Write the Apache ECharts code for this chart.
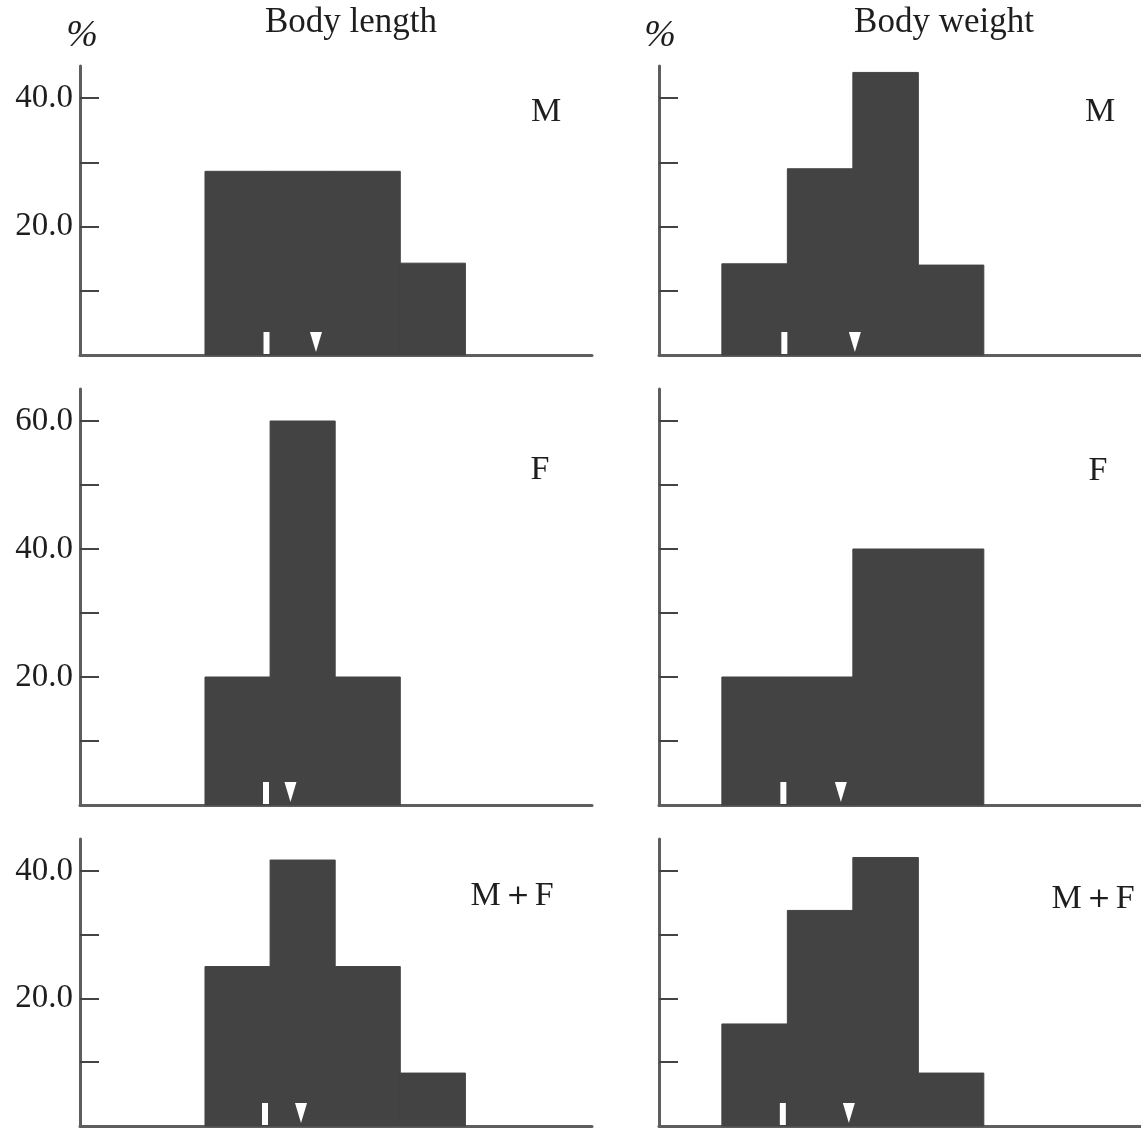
<!DOCTYPE html>
<html>
<head>
<meta charset="utf-8">
<script src="https://cdn.jsdelivr.net/npm/echarts@6/dist/echarts.min.js"></script>
<style>html,body{margin:0;padding:0;background:#fff}#c{width:1141px;height:1130px}</style>
</head>
<body>
<div id="c"></div>
<script>
// ---- data (class boundaries are in class-index units; values are %) ----
const lengthEdges = [2, 3, 4, 5, 6];
const weightEdges = [1, 2, 3, 4, 5];
const lengthM  = [28.6, 28.6, 28.6, 14.3];
const lengthF  = [20.0, 60.0, 20.0];
const lengthMF = [25.0, 41.7, 25.0, 8.3];
const weightM  = [14.2, 29.0, 44.0, 14.0];
const weightF  = [20.0, 20.0, 40.0, 40.0];
const weightMF = [16.0, 33.8, 42.1, 8.3];
// marker positions (class-index units): white bar and white triangle
const lengthBarMark = [2.945, 2.937, 2.922];
const lengthTriMark = [3.705, 3.313, 3.475];
const weightBarMark = [1.954, 1.939, 1.931];
const weightTriMark = [3.031, 2.817, 2.939];
const panelLabels = ['M', 'F', 'M\uFF0BF'];
const columnTitles = ['Body length', 'Body weight'];
const yMaxes = [45, 65, 45];
const yTickValues = [[10, 20, 30, 40], [10, 20, 30, 40, 50, 60], [10, 20, 30, 40]];
const yLabelValues = [[20, 40], [20, 40, 60], [20, 40]];

const serif = "'Liberation Serif', 'DejaVu Serif', serif";
const rows = [
  {top: 66,  height: 289},
  {top: 389, height: 416},
  {top: 839, height: 287}
];
const cols = [
  {left: 80,  width: 512, min: 0.08, max: 7.945, edges: lengthEdges, data: [lengthM, lengthF, lengthMF], bar: lengthBarMark, tri: lengthTriMark},
  {left: 659, width: 482, min: 0.04, max: 7.40,  edges: weightEdges, data: [weightM, weightF, weightMF], bar: weightBarMark, tri: weightTriMark}
];

const grid = [], xAxis = [], yAxis = [], series = [];
let gi = 0;
rows.forEach((r, ri) => {
  cols.forEach((c, ci) => {
    grid.push({left: c.left, top: r.top, width: c.width, height: r.height});
    xAxis.push({
      type: 'value', gridIndex: gi, min: c.min, max: c.max,
      axisLine: {show: true, onZero: false, lineStyle: {color: '#5e5e5e', width: 3}},
      axisTick: {show: false}, axisLabel: {show: false}, splitLine: {show: false}
    });
    yAxis.push({
      type: 'value', gridIndex: gi, min: 0, max: yMaxes[ri],
      axisLine: {show: true, onZero: false, lineStyle: {color: '#5e5e5e', width: 3}},
      axisTick: {show: true, inside: true, length: 19, customValues: yTickValues[ri],
                 lineStyle: {color: '#444', width: 2}},
      axisLabel: {show: ci === 0, customValues: yLabelValues[ri], margin: 7,
                  fontFamily: serif, fontSize: 33, color: '#1e1e1e',
                  formatter: v => v.toFixed(1)},
      splitLine: {show: false}
    });
    const vals = c.data[ri];
    const binData = vals.map((v, i) => [c.edges[i], c.edges[i + 1], v]);
    series.push({
      type: 'custom', xAxisIndex: gi, yAxisIndex: gi, data: binData, z: 2,
      renderItem: (params, api) => {
        const p0 = api.coord([api.value(0), api.value(2)]);
        const p1 = api.coord([api.value(1), 0]);
        return {type: 'rect', shape: {x: p0[0], y: p0[1], width: p1[0] - p0[0], height: p1[1] - p0[1]},
                style: {fill: '#434343', stroke: '#434343', lineWidth: 1}};
      }
    });
    series.push({
      type: 'custom', xAxisIndex: gi, yAxisIndex: gi, z: 5,
      data: [[c.bar[ri], c.tri[ri]]],
      renderItem: (params, api) => {
        const b = api.coord([api.value(0), 0]);
        const t = api.coord([api.value(1), 0]);
        return {type: 'group', children: [
          {type: 'rect', shape: {x: b[0] - 3, y: b[1] - 23, width: 6, height: 22}, style: {fill: '#fff'}},
          {type: 'polygon', shape: {points: [[t[0] - 6, t[1] - 23], [t[0] + 6, t[1] - 23], [t[0], t[1] - 3]]}, style: {fill: '#fff'}}
        ]};
      }
    });
    gi++;
  });
});

const graphic = [];
const titlePos = [[351, 23], [944, 23]];
columnTitles.forEach((t, i) => graphic.push({type: 'text', x: titlePos[i][0], y: titlePos[i][1],
  style: {text: t, font: '35px ' + serif, fill: '#1e1e1e', align: 'center', verticalAlign: 'middle'}}));
[[82, 36], [660, 36]].forEach(p => graphic.push({type: 'text', x: p[0], y: p[1],
  style: {text: '%', font: 'italic 38px ' + serif, fill: '#1e1e1e', align: 'center', verticalAlign: 'middle'}}));
const labelPos = [[[546, 112], [1100, 112]], [[540, 470], [1098, 471]], [[512, 896], [1093, 899]]];
labelPos.forEach((rowp, ri) => rowp.forEach(p => graphic.push({type: 'text', x: p[0], y: p[1],
  style: {text: panelLabels[ri], font: '34px ' + serif, fill: '#1e1e1e', align: 'center', verticalAlign: 'middle'}})));

const chart = echarts.init(document.getElementById('c'));
chart.setOption({animation: false, backgroundColor: '#fff', grid, xAxis, yAxis, series, graphic});
</script>
</body>
</html>
